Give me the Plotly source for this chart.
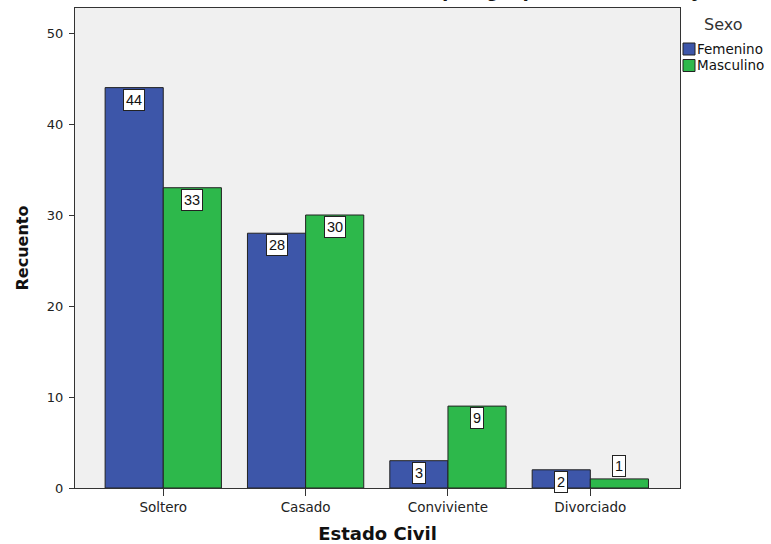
import plotly.graph_objects as go

categories = ["Soltero", "Casado", "Conviviente", "Divorciado"]
femenino = [44, 28, 3, 2]
masculino = [33, 30, 9, 1]
series_names = ["Femenino", "Masculino"]
colors = ["#3D56A9", "#2DB84B"]
y_ticks = [0, 10, 20, 30, 40, 50]

FONT = "'DejaVu Sans', Arial, sans-serif"
ARIAL = "Arial, 'Liberation Sans', sans-serif"

fig = go.Figure()
for name, vals, col in zip(series_names, [femenino, masculino], colors):
    fig.add_trace(go.Bar(
        x=categories, y=vals, name=name,
        marker=dict(color=col, line=dict(color="#222222", width=1)),
        showlegend=False,
    ))

# data labels
bar_half = (1 - 0.183) / 4
annotations = []
for si, vals in enumerate([femenino, masculino]):
    off = -bar_half if si == 0 else bar_half
    for ci, v in enumerate(vals):
        above = v < 2
        annotations.append(dict(
            x=ci + off, y=v, xref="x", yref="y", text=str(v), showarrow=False,
            yanchor="bottom" if above else "top", yshift=2 if above else -1,
            bgcolor="white", bordercolor="#222222", borderwidth=1, borderpad=2,
            font=dict(family=ARIAL, size=14.5, color="#111111"),
        ))

# custom legend
def px_x(p):
    return (p - 75) / 605
def px_y(p):
    return (488 - p) / 480

annotations.append(dict(x=px_x(702), y=px_y(25), xref="paper", yref="paper",
                        text="Sexo", showarrow=False, xanchor="left", yanchor="middle",
                        font=dict(family=FONT, size=16, color="#333333")))
shapes = []
for i, (name, col) in enumerate(zip(series_names, colors)):
    yc = 49 + 16.5 * i
    shapes.append(dict(type="rect", xref="paper", yref="paper",
                       x0=px_x(683), x1=px_x(695), y0=px_y(yc + 6), y1=px_y(yc - 6),
                       fillcolor=col, line=dict(color="#222222", width=1)))
    annotations.append(dict(x=px_x(695), y=px_y(yc), xref="paper", yref="paper",
                            text=name, showarrow=False, xanchor="left", yanchor="middle",
                            font=dict(family=FONT, size=13.5, color="#111111")))

# cut-off title at top
annotations.append(dict(x=px_x(440), y=1, xref="paper", yref="paper",
                        text="<b>por grupo de estudios y sexo</b>", showarrow=False,
                        xanchor="left", yanchor="bottom", yshift=5,
                        font=dict(family=ARIAL, size=23, color="#111111")))

fig.update_layout(
    width=771, height=544,
    margin=dict(l=75, r=91, t=8, b=56, autoexpand=False),
    paper_bgcolor="white", plot_bgcolor="#F0F0F0",
    barmode="group", bargap=0.183, bargroupgap=0,
    font=dict(family=FONT, size=13, color="#222222"),
    annotations=annotations, shapes=shapes,
    xaxis=dict(
        range=[-0.62, 3.63], showline=True, linecolor="#333333", linewidth=1, mirror=True,
        ticks="outside", ticklen=7, tickcolor="#333333",
        tickfont=dict(family=FONT, size=13.5, color="#222222"),
        title=dict(text="<b>Estado Civil</b>", font=dict(family=FONT, size=18, color="#111111"), standoff=14),
        showgrid=False, zeroline=False,
    ),
    yaxis=dict(
        range=[0, 52.75], tickvals=y_ticks, showline=True, linecolor="#333333", linewidth=1, mirror=True,
        ticks="outside", ticklen=5, tickcolor="#333333", ticklabelstandoff=3,
        tickfont=dict(family=FONT, size=13, color="#222222"),
        title=dict(text="<b>Recuento</b>", font=dict(family=FONT, size=16, color="#111111"), standoff=14),
        showgrid=False, zeroline=False,
    ),
)

fig.write_html("out.html")
